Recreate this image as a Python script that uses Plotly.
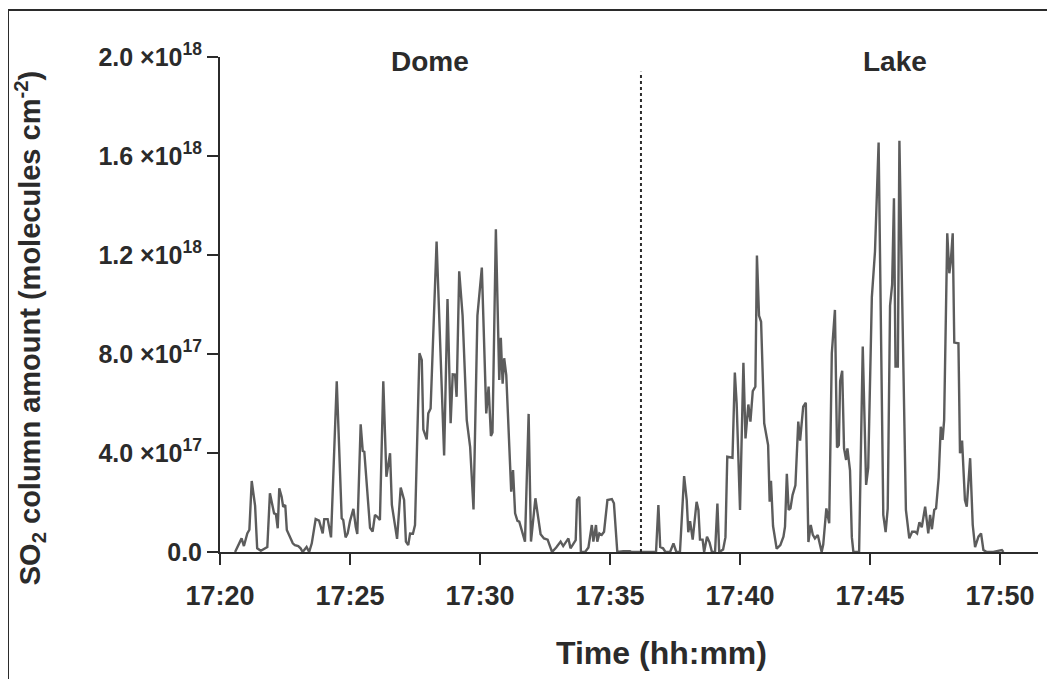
import plotly.graph_objects as go

# time in minutes after 17:20:00, SO2 column amount in units of 1e17 molecules cm-2
dome_minutes = [0.58, 0.83, 0.92, 1.05, 1.13, 1.22, 1.35, 1.43, 1.57, 1.73, 1.82, 1.92, 1.99, 2.08, 2.15,
                2.22, 2.28, 2.37, 2.43, 2.51, 2.57, 2.69, 2.80, 2.88, 3.01, 3.10, 3.18, 3.33, 3.43, 3.53,
                3.68, 3.81, 3.95, 4.01, 4.14, 4.27, 4.49, 4.68, 4.74, 4.83, 4.91, 5.00, 5.13, 5.22, 5.28,
                5.41, 5.49, 5.55, 5.77, 5.87, 5.96, 6.04, 6.15, 6.28, 6.40, 6.54, 6.61, 6.81, 6.95, 7.08,
                7.15, 7.24, 7.31, 7.42, 7.50, 7.67, 7.76, 7.82, 7.95, 8.01, 8.10, 8.33, 8.62, 8.75, 8.87,
                8.95, 9.04, 9.10, 9.20, 9.33, 9.49, 9.62, 9.75, 9.90, 10.07, 10.24, 10.33, 10.42, 10.48,
                10.61, 10.74, 10.80, 10.87, 10.93, 11.01, 11.20, 11.27, 11.35, 11.44, 11.51, 11.63, 11.73,
                11.87, 11.96, 12.13, 12.24, 12.33, 12.46, 12.60, 12.77, 12.93, 13.10, 13.20, 13.40, 13.48,
                13.68, 13.73, 13.82, 13.88, 14.04, 14.17, 14.30, 14.36, 14.46, 14.51, 14.59, 14.68, 14.77,
                14.90, 15.07, 15.15, 15.28, 15.51, 15.77, 15.83]
dome_so2 = [0, 0.55, 0.24, 0.75, 0.9, 2.87, 1.86, 0.15, 0.05, 0.15, 0.2, 2.37, 2.03, 1.56, 1.53,
            0.96, 2.57, 2.23, 1.83, 1.9, 0.89, 0.62, 0.35, 0.28, 0.24, 0.15, 0, 0.2, 0, 0.35,
            1.33, 1.27, 0.75, 1.33, 1.33, 0.59, 6.9, 1.36, 1.29, 0.59, 0.75, 1.25, 1.74, 1.02, 0.73,
            5.16, 4.08, 4.05, 0.98, 0.82, 1.5, 1.43, 1.29, 6.9, 3.04, 3.99, 1.9, 0.53, 2.6, 2.1,
            0.42, 0.28, 0.75, 0.74, 1.09, 8.03, 7.76, 4.95, 4.55, 5.6, 5.8, 12.54, 3.9, 10.22, 5.2,
            7.18, 7.17, 6.27, 11.34, 9.55, 5.33, 4.25, 1.72, 9.55, 11.49, 5.6, 6.68, 4.69, 4.83,
            13.04, 6.95, 8.65, 6.8, 7.83, 7.15, 2.44, 3.31, 1.56, 1.26, 1.23, 0.72, 0.42,
            5.58, 0.42, 2.17, 1.4, 0.72, 0.55, 0.5, 0, 0.18, 0.42, 0.24, 0.55, 0.15,
            0.48, 2.1, 2.23, 0, 0, 0.18, 1.09, 0.42, 1.09, 0.42, 0.75, 0.69, 0.82,
            2.1, 2.14, 1.97, 0, 0.03, 0.03, 0]

lake_minutes = [16.77, 16.86, 16.93, 17.04, 17.13, 17.31, 17.44, 17.55, 17.69, 17.85, 17.95, 18.01, 18.08,
                18.18, 18.33, 18.40, 18.46, 18.56, 18.62, 18.73, 18.83, 18.92, 19.04, 19.13, 19.20, 19.35,
                19.44, 19.51, 19.71, 19.80, 19.87, 20.00, 20.13, 20.21, 20.32, 20.40, 20.49, 20.59, 20.65,
                20.73, 20.81, 20.93, 21.08, 21.14, 21.19, 21.27, 21.41, 21.55, 21.67, 21.73, 21.80, 21.87,
                21.94, 22.02, 22.13, 22.24, 22.31, 22.43, 22.53, 22.63, 22.72, 22.80, 22.88, 22.99, 23.14,
                23.20, 23.32, 23.43, 23.53, 23.65, 23.73, 23.80, 23.85, 23.93, 24.00, 24.08, 24.13, 24.23,
                24.30, 24.36, 24.58, 24.72, 24.78, 24.85, 24.93, 25.07, 25.19, 25.33, 25.51, 25.60, 25.68,
                25.77, 25.85, 25.92, 25.98, 26.07, 26.13, 26.38, 26.51, 26.62, 26.73, 26.81, 26.90, 26.99,
                27.12, 27.24, 27.31, 27.38, 27.47, 27.54, 27.64, 27.72, 27.79, 27.85, 27.97, 28.05, 28.10,
                28.18, 28.24, 28.40, 28.46, 28.54, 28.65, 28.72, 28.85, 28.95, 29.04, 29.17, 29.27, 29.36,
                29.49, 29.74, 30.07, 30.13]
lake_so2 = [0, 1.9, 0.2, 0.15, 0, 0, 0.35, 0, 0, 3.07, 2.1, 0.8, 1.25,
            0.5, 2.03, 1.7, 0.5, 0.5, 0, 0.62, 0.38, 0, 0, 1.96, 0, 0.1,
            0.6, 3.85, 3.81, 7.25, 6.01, 1.7, 7.65, 4.59, 5.96, 5.27, 6.5, 6.68, 11.98,
            9.55, 9.3, 5.2, 4.32, 2.03, 2.88, 1.05, 0.13, 0.28, 0.62, 1.02, 3.16, 1.7,
            1.76, 2.3, 2.69, 5.27, 4.5, 5.87, 6.03, 0.4, 1.09, 0.69, 0.55, 0.69, 0,
            0.3, 1.76, 1.16, 8.03, 9.78, 4.22, 4.32, 6.9, 7.32, 4.19, 3.72, 4.19, 3.3,
            0.6, 0, 0, 8.3, 6.08, 2.71, 3.4, 10.3, 12.13, 16.54, 1.5, 0.8, 1.75,
            9.95, 10.8, 14.29, 7.49, 7.49, 16.62, 1.7, 0.55, 0.82, 0.82, 0.75, 1.2, 1.0,
            1.83, 0.75, 1.5, 0.92, 1.7, 1.76, 3.0, 5.06, 4.53, 5.33, 12.88, 11.26, 11.66,
            12.88, 8.46, 8.43, 3.99, 4.5, 2.1, 1.83, 3.79, 1.09, 0.2, 0.62, 0.75, 0.08,
            0, 0, 0.08, 0]

x_tick_vals = [0, 5, 10, 15, 20, 25, 30]
x_tick_labels = ["17:20", "17:25", "17:30", "17:35", "17:40", "17:45", "17:50"]
y_tick_vals = [0, 4e17, 8e17, 1.2e18, 1.6e18, 2.0e18]
y_tick_labels = ["0.0", "4.0 ×10<sup>17</sup>", "8.0 ×10<sup>17</sup>", "1.2 ×10<sup>18</sup>",
                 "1.6 ×10<sup>18</sup>", "2.0 ×10<sup>18</sup>"]
section_labels = ["Dome", "Lake"]
divider_minute = 16.19
scale = 1e17

minutes = dome_minutes + [16.2] + lake_minutes
so2 = [v * scale for v in dome_so2] + [0] + [v * scale for v in lake_so2]

DARK = "#2b2b2b"
FONT = "Liberation Sans, Arial, sans-serif"

fig = go.Figure()
fig.add_trace(go.Scatter(x=minutes, y=so2, mode="lines",
                         line=dict(color="#5c5c5c", width=2.4), showlegend=False))
fig.add_trace(go.Scatter(x=[divider_minute, divider_minute], y=[0, 1.94e18], mode="lines",
                         line=dict(color=DARK, width=2, dash="dot"), showlegend=False))

# page has an 8px body margin, so figure coords = page coords - 8
fig.update_layout(
    width=1055, height=679,
    margin=dict(l=212, r=25, t=49, b=135, autoexpand=False),
    paper_bgcolor="white", plot_bgcolor="white",
    font=dict(family=FONT, color=DARK),
)
fig.update_xaxes(range=[0, 31.46], tickvals=x_tick_vals, ticktext=x_tick_labels, automargin=False,
                 showgrid=False, zeroline=False, showline=True, linecolor=DARK, linewidth=2,
                 ticks="outside", ticklen=11, tickwidth=2, tickcolor=DARK,
                 tickfont=dict(family=FONT, size=27, color=DARK, weight="bold"), ticklabelstandoff=8)
fig.update_yaxes(range=[0, 2.0e18], tickvals=y_tick_vals, ticktext=y_tick_labels, automargin=False,
                 showgrid=False, zeroline=False, showline=True, linecolor=DARK, linewidth=2,
                 ticks="outside", ticklen=11, tickwidth=2, tickcolor=DARK,
                 tickfont=dict(family=FONT, size=25, color=DARK, weight="bold"))

for txt, xp in zip(section_labels, [0.2567, 0.825]):
    fig.add_annotation(text=txt, x=xp, y=0.99, xref="paper", yref="paper",
                       xanchor="center", yanchor="middle",
                       showarrow=False, font=dict(family=FONT, size=28, color=DARK, weight="bold"))

fig.add_annotation(text="Time (hh:mm)", x=0.540, y=-0.204, xref="paper", yref="paper",
                   xanchor="center", yanchor="middle",
                   showarrow=False, font=dict(family=FONT, size=32, color=DARK, weight="bold"))
fig.add_annotation(text="SO<sub>2</sub> column amount (molecules cm<sup>-2</sup>)",
                   x=-0.232, y=0.4525, xref="paper", yref="paper", textangle=-90,
                   xanchor="center", yanchor="middle",
                   showarrow=False, font=dict(family=FONT, size=29, color=DARK, weight="bold"))

# outer frame (positions relative to the plot area: page x 220..1038, page y 552..57)
W, H = 818, 495
def px(x):
    return (x - 220) / W
def py(y):
    return (552 - y) / H
fig.add_shape(type="line", xref="paper", yref="paper", x0=px(8), x1=px(1048), y0=py(10), y1=py(10),
              line=dict(color=DARK, width=2))
fig.add_shape(type="line", xref="paper", yref="paper", x0=px(8), x1=px(8), y0=py(10), y1=py(679),
              line=dict(color=DARK, width=2))
fig.add_shape(type="line", xref="paper", yref="paper", x0=px(1048), x1=px(1048), y0=py(10), y1=py(679),
              line=dict(color=DARK, width=2))

fig.write_html("out.html")
